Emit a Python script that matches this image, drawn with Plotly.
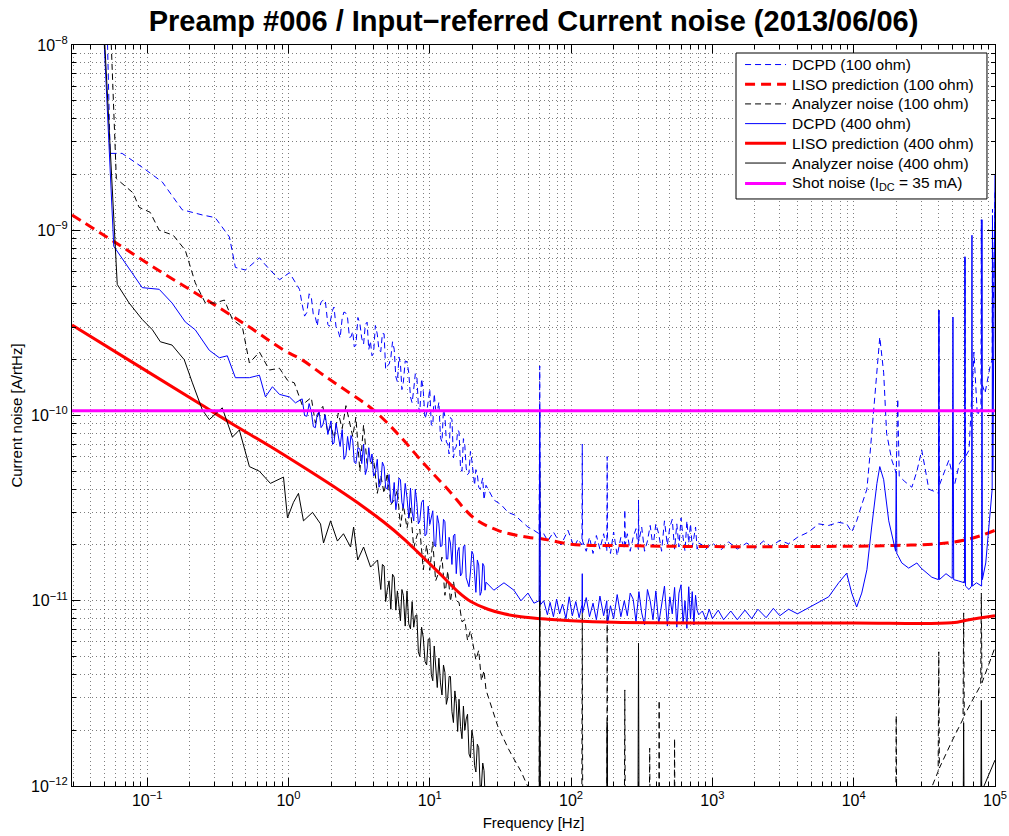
import plotly.graph_objects as go

# ---------------- data (frequency [Hz], current noise [A/rtHz]) ----------------
DENSE_F = [1.25, 1.35, 1.45, 1.55, 1.65, 1.75, 1.9, 2.0, 2.1, 2.25, 2.4, 2.55, 2.7, 2.85, 3.0,
           3.2, 3.4, 3.6, 3.8, 4.0, 4.25, 4.5, 4.75, 5.0, 5.3, 5.6, 5.9, 6.2, 6.5, 6.9, 7.3, 7.7,
           8.1, 8.5, 9.0, 9.5, 10, 10.5, 11, 11.6, 12.2, 12.8, 13.4, 14, 14.7, 15.4, 16.1, 16.9,
           17.7, 18.5, 19.4, 20.3, 21.2, 22.2, 23.2, 24.2, 25]
DENSE_F2 = [1.3, 1.4, 1.5, 1.6, 1.7, 1.82, 1.95, 2.05, 2.17, 2.32, 2.47, 2.62, 2.77, 2.92, 3.1,
            3.3, 3.5, 3.7, 3.9, 4.12, 4.37, 4.62, 4.87, 5.15, 5.45, 5.75, 6.05, 6.35, 6.7, 7.1,
            7.5, 7.9, 8.3, 8.75, 9.25, 9.75, 10.25, 10.75, 11.3, 11.9, 12.5, 13.1, 13.7, 14.35,
            15.05, 15.75, 16.5, 17.3, 18.1, 18.95, 19.85, 20.75, 21.7, 22.7, 23.7, 24.6]

DCPD100_LOW = [(0.052, 1.3e-8), (0.0547, 2.6e-9), (0.0665, 2.6e-9), (0.0937, 2.17e-9), (0.128, 1.82e-9),
               (0.177, 1.29e-9), (0.245, 1.21e-9), (0.303, 1.17e-9), (0.382, 9.2e-10), (0.421, 6.3e-10),
               (0.496, 6.1e-10), (0.623, 7.1e-10), (0.687, 6.5e-10), (0.863, 5.4e-10), (1.016, 5.9e-10),
               (1.197, 4.8e-10)]
DCPD100_DENSE = [3.98e-10, 3.6e-10, 4.37e-10, 3.39e-10, 3.75e-10, 4.18e-10, 3.1e-10, 3.37e-10,
                 3.85e-10, 2.85e-10, 3.36e-10, 3.57e-10, 2.64e-10, 2.84e-10, 2.39e-10,
                 3.14e-10, 2.43e-10, 3.19e-10, 2.52e-10, 2.16e-10,
                 2.75e-10, 2.21e-10, 2.76e-10, 1.85e-10,
                 2.05e-10, 2.28e-10, 1.52e-10, 1.9e-10, 1.51e-10, 1.95e-10, 1.26e-10, 1.39e-10, 1.63e-10,
                 1.04e-10, 1.35e-10, 1.03e-10, 1.39e-10,
                 8.8e-11, 1.08e-10, 1.18e-10, 7.2e-11, 9.9e-11, 7.0e-11, 9.75e-11,
                 5.9e-11, 6.8e-11, 8.2e-11, 5.0e-11, 6.9e-11, 4.8e-11, 6.4e-11, 5.0e-11, 5.1e-11,
                 4.1e-11, 4.3e-11, 3.5e-11, 4.2e-11]
DCPD100_DENSE2 = [3.44e-10, 4.54e-10, 3.48e-10, 3.04e-10, 4.09e-10, 4.2e-10, 3.03e-10, 3.7e-10, 3.01e-10,
                  2.62e-10, 3.62e-10, 3.36e-10, 2.66e-10, 2.35e-10, 3.38e-10, 2.61e-10, 3.1e-10, 2.27e-10,
                  2.1e-10, 3.06e-10, 2.25e-10, 2.77e-10, 1.78e-10, 1.89e-10, 2.5e-10, 1.62e-10, 2.07e-10,
                  1.38e-10, 1.97e-10, 1.7e-10, 1.17e-10, 1.68e-10, 1.13e-10, 1.58e-10, 9.6e-11, 1.25e-10,
                  8.9e-11, 1.31e-10, 1.05e-10, 7.6e-11, 1.08e-10, 7.2e-11, 6.2e-11, 9.5e-11, 6.6e-11,
                  8.3e-11, 5.2e-11, 7.5e-11, 5.2e-11, 4.9e-11, 5.7e-11, 4.2e-11, 4.8e-11, 4.0e-11,
                  4.6e-11, 3.9e-11]
DCPD100_MID = [(28.4, 3.5e-11), (32, 3.3e-11), (35.8, 3.0e-11), (40, 2.9e-11), (44.2, 2.7e-11), (49.5, 2.5e-11),
               (54.6, 2.4e-11), (59.4, 2.3e-11), (60, 1.85e-10), (60.6, 2.2e-11), (64, 2.3e-11), (68.5, 2.1e-11),
               (75, 2.35e-11), (84.9, 2.0e-11), (95, 2.4e-11), (105, 1.95e-11), (112, 2.15e-11), (119.4, 2.0e-11),
               (120, 7e-11), (120.6, 2.1e-11), (128, 1.85e-11), (135, 2.2e-11), (143, 1.8e-11), (151, 2.25e-11),
               (160, 1.9e-11), (170, 2.3e-11), (179, 1.85e-11), (180, 6e-11), (181, 2.2e-11), (190, 1.8e-11),
               (200, 2.35e-11), (212, 1.75e-11), (225, 2.2e-11), (238, 1.9e-11), (240, 3.1e-11), (242, 2.0e-11),
               (250, 2.3e-11), (262, 1.85e-11), (275, 2.2e-11), (288, 2.45e-11), (299, 1.9e-11), (300, 3.5e-11),
               (302, 2.1e-11), (316, 2.5e-11), (331, 1.85e-11), (347, 2.1e-11), (363, 2.55e-11), (380, 1.95e-11),
               (398, 2.6e-11), (417, 2.3e-11), (437, 1.85e-11), (458, 2.7e-11), (480, 2.0e-11), (500, 2.5e-11),
               (520, 2.75e-11), (540, 1.9e-11), (560, 2.6e-11), (580, 1.95e-11), (600, 2.8e-11), (620, 2.2e-11),
               (640, 1.85e-11), (660, 2.7e-11), (680, 2.05e-11), (700, 2.6e-11), (720, 1.95e-11), (740, 2.2e-11),
               (760, 2.5e-11), (780, 1.9e-11), (800, 2.05e-11)]
DCPD100_HIGH = [(850, 2.0e-11), (900, 1.9e-11), (1000, 2.05e-11), (1150, 1.88e-11), (1300, 2.08e-11),
                (1500, 1.9e-11), (1750, 2.05e-11), (2000, 1.92e-11), (2300, 2.1e-11), (2600, 1.96e-11),
                (3000, 2.12e-11), (3460, 2.03e-11), (4000, 2.2e-11), (4800, 2.35e-11), (5650, 2.6e-11),
                (6650, 2.55e-11), (7830, 2.65e-11), (8920, 2.6e-11), (9680, 2.35e-11), (10500, 2.7e-11),
                (11400, 3.3e-11), (12400, 4.0e-11), (13000, 6.0e-11), (14100, 1.21e-10), (15300, 2.65e-10),
                (16300, 1.7e-10), (17100, 8.0e-11), (18600, 5.75e-11), (20000, 4.9e-11), (20500, 1.23e-10),
                (21000, 4.7e-11), (23000, 4.4e-11), (25800, 4.1e-11), (28000, 5.0e-11), (30300, 6.5e-11),
                (32000, 5.2e-11), (34000, 4.0e-11), (37000, 3.9e-11), (39800, 3.8e-11), (40100, 3.7e-10),
                (40400, 4.2e-11), (44000, 5.0e-11), (47200, 5.75e-11), (50000, 4.8e-11), (52000, 4.3e-11),
                (56000, 5.5e-11), (60800, 6.0e-11), (61300, 7.2e-10), (61800, 6.0e-11), (65500, 6.5e-11),
                (68000, 1.2e-10), (71000, 2.2e-10), (75000, 1.0e-10), (79500, 1.1e-10), (80000, 1.14e-9),
                (80500, 1.5e-10), (85000, 1.32e-10), (92200, 1.83e-10), (95500, 2.0e-10), (96000, 1.3e-9),
                (96500, 2.5e-10), (100000, 1.6e-9)]

LISO100 = [(0.0294, 1.21e-9), (0.0593, 8.6e-10), (0.1216, 6.05e-10), (0.258, 4.25e-10), (0.529, 3.0e-10),
           (0.92, 2.26e-10), (1.257, 1.99e-10), (1.77, 1.65e-10), (2.6, 1.35e-10), (4.0, 1.07e-10),
           (6.23, 7.65e-11), (9.07, 5.5e-11), (13.4, 4.0e-11), (20.5, 2.8e-11), (30.3, 2.4e-11),
           (49.5, 2.2e-11), (64.3, 2.15e-11), (100, 2.02e-11), (300, 1.98e-11), (1000, 1.96e-11),
           (3000, 1.96e-11), (10000, 1.97e-11), (20000, 1.99e-11), (40000, 2.03e-11), (60000, 2.12e-11),
           (80000, 2.25e-11), (100000, 2.4e-11)]

ANALYZER100_LOW = [(0.055, 1.3e-8), (0.0605, 1.9e-9), (0.0796, 1.59e-9), (0.0877, 1.33e-9), (0.105, 1.25e-9),
                   (0.1216, 1.0e-9), (0.153, 9.4e-10), (0.186, 7.8e-10), (0.219, 5.2e-10), (0.258, 4.05e-10),
                   (0.304, 4.05e-10), (0.352, 4.2e-10), (0.401, 3.3e-10), (0.472, 3.0e-10), (0.529, 1.92e-10),
                   (0.623, 2.2e-10), (0.733, 1.76e-10), (0.863, 1.8e-10), (0.984, 1.55e-10), (1.1, 1.5e-10)]
ANALYZER100_DENSE = [1.14e-10, 1.19e-10, 1.25e-10, 9.1e-11, 1.05e-10, 1.12e-10, 8.1e-11, 8.8e-11,
                     7.5e-11, 1.03e-10, 8.5e-11, 1.13e-10, 9.2e-11, 7.7e-11, 9.8e-11,
                     5.0e-11, 8.9e-11, 5.5e-11, 5.4e-11, 5.85e-11,
                     3.8e-11, 4.75e-11, 3.8e-11, 4.9e-11,
                     3.3e-11, 3.5e-11, 3.96e-11, 2.5e-11, 3.3e-11, 2.46e-11, 3.17e-11, 1.93e-11, 2.24e-11,
                     2.44e-11, 1.47e-11, 2.0e-11, 1.46e-11,
                     2.08e-11, 1.28e-11, 1.43e-11, 1.72e-11, 1.07e-11, 1.45e-11, 9.9e-12,
                     1.28e-11, 1.0e-11, 9.8e-12, 7.7e-12, 7.9e-12, 6.1e-12, 6.9e-12, 5.7e-12, 4.8e-12,
                     5.4e-12, 3.7e-12, 4.2e-12, 3.3e-12]
ANALYZER100_HIGH = [(30.3, 2.1e-12), (35.8, 1.6e-12), (39.4, 1.4e-12), (44.2, 1.2e-12), (49.5, 9.9e-13),
                    (55, 7e-13), (59.4, 6e-13), (60, 5e-11), (60.6, 5e-13), (119, 5e-13), (120, 9e-12),
                    (121, 5e-13), (179, 5e-13), (180, 9e-12), (181.5, 5e-13), (238, 5e-13), (240, 3.3e-12),
                    (242, 5e-13), (357, 5e-13), (360, 1.6e-12), (363, 5e-13), (417, 5e-13), (420, 2.9e-12),
                    (423, 5e-13), (536, 5e-13), (540, 1.8e-12), (544, 5e-13), (19800, 5e-13), (20000, 2.4e-12),
                    (20200, 5e-13), (35000, 9.5e-13), (39600, 1.2e-12), (40000, 5.3e-12), (40400, 1.25e-12),
                    (50000, 1.77e-12), (59400, 2.3e-12), (60000, 8.6e-12), (60600, 2.4e-12), (70000, 2.95e-12),
                    (79200, 3.5e-12), (80000, 1.1e-11), (80800, 3.6e-12), (100000, 5.6e-12)]

DCPD400_LOW = [(0.0485, 1.5e-8), (0.058, 8.2e-10), (0.0922, 4.9e-10), (0.1216, 4.8e-10), (0.150, 4.05e-10),
               (0.186, 3.2e-10), (0.219, 2.9e-10), (0.275, 2.25e-10), (0.324, 2.05e-10), (0.369, 2.1e-10),
               (0.421, 1.6e-10), (0.472, 1.6e-10), (0.529, 1.6e-10), (0.623, 1.65e-10), (0.687, 1.26e-10),
               (0.770, 1.43e-10), (0.863, 1.3e-10), (1.016, 1.26e-10), (1.12, 1.17e-10)]
DCPD400_DENSE = [1.23e-10, 9.9e-11, 1.05e-10, 8.6e-11, 1.045e-10, 8.9e-11, 7.9e-11, 9.35e-11,
                 7.1e-11, 7.7e-11, 8.4e-11, 6.1e-11, 6.5e-11, 7.3e-11, 5.5e-11,
                 6.6e-11, 7.0e-11, 5.2e-11, 5.6e-11, 4.7e-11,
                 5.8e-11, 4.3e-11, 5.3e-11, 4.0e-11,
                 3.4e-11, 4.35e-11, 3.55e-11, 4.5e-11, 3.15e-11, 3.6e-11, 4.05e-11, 2.7e-11, 3.4e-11,
                 2.7e-11, 3.5e-11, 2.3e-11, 2.58e-11,
                 3.06e-11, 1.96e-11, 2.6e-11, 1.98e-11, 2.67e-11, 1.68e-11, 2.05e-11,
                 2.24e-11, 1.4e-11, 1.94e-11, 1.41e-11, 2.0e-11, 1.24e-11, 1.43e-11, 1.78e-11, 1.11e-11,
                 1.56e-11, 1.12e-11, 1.54e-11, 1.26e-11]
DCPD400_DENSE2 = [1.0e-10, 1.16e-10, 8.7e-11, 1.02e-10, 8.6e-11, 1.01e-10, 8.6e-11, 7.0e-11, 9.1e-11,
                  6.8e-11, 5.8e-11, 7.7e-11, 7.8e-11, 5.6e-11, 6.7e-11, 5.5e-11, 4.8e-11, 6.7e-11,
                  6.2e-11, 4.9e-11, 4.1e-11, 5.6e-11, 4.1e-11, 4.8e-11, 3.4e-11, 3.1e-11, 4.6e-11,
                  3.4e-11, 4.3e-11, 2.8e-11, 3.0e-11, 4.0e-11, 2.6e-11, 3.4e-11, 2.24e-11, 3.24e-11,
                  2.86e-11, 2.0e-11, 2.88e-11, 1.96e-11, 2.75e-11, 1.68e-11, 2.2e-11, 1.57e-11,
                  2.29e-11, 1.85e-11, 1.36e-11, 1.96e-11, 1.33e-11, 1.19e-11, 1.85e-11, 1.29e-11,
                  1.66e-11, 1.07e-11, 1.59e-11, 1.14e-11]
DCPD400_MID = [(28.4, 1.14e-11), (33.5, 1.25e-11), (39.4, 1.14e-11), (44.2, 1.0e-11), (49.5, 1.1e-11),
               (54.6, 9.7e-12), (59.4, 1.0e-11), (60, 1.1e-10), (60.6, 9.5e-12), (64, 1.0e-11), (68, 8.4e-12),
               (71, 9.8e-12), (75, 8.2e-12), (79, 1.02e-11), (83, 8.5e-12), (87, 9.6e-12), (92, 8.0e-12),
               (97, 1.05e-11), (102, 8.3e-12), (108, 9.9e-12), (114, 8.1e-12), (119.4, 9.5e-12), (120, 1.4e-11),
               (120.6, 8.6e-12), (128, 1.04e-11), (135, 8.2e-12), (143, 9.7e-12), (151, 7.9e-12), (160, 1.06e-11),
               (170, 8.3e-12), (179, 1.0e-11), (181, 7.5e-12), (190, 9.4e-12), (200, 8.0e-12), (212, 1.08e-11),
               (225, 8.2e-12), (238, 1.0e-11), (250, 8.3e-12), (262, 1.1e-11), (275, 1.02e-11), (288, 7.7e-12),
               (302, 1.12e-11), (316, 8.6e-12), (331, 7.4e-12), (347, 1.15e-11), (363, 1.0e-11), (380, 7.9e-12),
               (398, 1.13e-11), (417, 7.5e-12), (437, 9.6e-12), (458, 1.2e-11), (480, 7.3e-12), (500, 1.05e-11),
               (520, 8.5e-12), (540, 1.18e-11), (560, 7.2e-12), (580, 1.1e-11), (600, 1.22e-11), (620, 7.5e-12),
               (640, 1.0e-11), (660, 7.1e-12), (680, 1.19e-11), (700, 8.0e-12), (720, 1.12e-11), (740, 7.4e-12),
               (760, 1.07e-11), (780, 8.9e-12), (800, 8.4e-12)]
DCPD400_HIGH = [(850, 8.8e-12), (900, 7.9e-12), (950, 9.0e-12), (1000, 8.0e-12), (1100, 8.9e-12),
                (1200, 7.9e-12), (1350, 8.8e-12), (1500, 7.9e-12), (1700, 8.9e-12), (1900, 8.0e-12),
                (2100, 9.0e-12), (2400, 8.1e-12), (2700, 9.1e-12), (3000, 8.3e-12), (3460, 9.0e-12),
                (4000, 8.5e-12), (4800, 9.2e-12), (5650, 9.8e-12), (6650, 1.05e-11), (7830, 1.25e-11),
                (8920, 1.41e-11), (9680, 1.1e-11), (10500, 9.25e-12), (11400, 1.1e-11), (12400, 1.47e-11),
                (13400, 2.5e-11), (14600, 4.3e-11), (15300, 5.3e-11), (16300, 4.5e-11), (17700, 2.7e-11),
                (19800, 1.85e-11), (20000, 5.0e-11), (20200, 1.8e-11), (21900, 1.6e-11), (24500, 1.5e-11),
                (28000, 1.6e-11), (30000, 1.5e-11), (35700, 1.34e-11), (39800, 1.3e-11), (40100, 3.7e-10),
                (40400, 1.3e-11), (45000, 1.4e-11), (49800, 1.32e-11), (50400, 3.4e-10), (51000, 1.3e-11),
                (55000, 1.28e-11), (60800, 1.25e-11), (61300, 7.2e-10), (61800, 1.2e-11), (65500, 1.15e-11),
                (68300, 1.2e-11), (68700, 9.4e-10), (69100, 1.2e-11), (74000, 1.25e-11), (80400, 1.2e-11),
                (80900, 1.14e-9), (81400, 1.3e-11), (86000, 1.6e-11), (92000, 3.0e-11), (95500, 4e-11),
                (96000, 1.2e-9), (96500, 5e-11), (100000, 2.0e-9)]

LISO400 = [(0.0294, 3.08e-10), (0.1, 1.73e-10), (0.234, 1.16e-10), (0.401, 9.0e-11), (0.745, 6.8e-11),
           (1.257, 5.3e-11), (2.22, 4.01e-11), (3.40, 3.21e-11), (4.72, 2.66e-11), (6.54, 2.16e-11),
           (8.22, 1.83e-11), (10.2, 1.56e-11), (12.6, 1.33e-11), (15.8, 1.12e-11), (19.5, 9.9e-12),
           (25.8, 9.0e-12), (33.5, 8.5e-12), (44.2, 8.2e-12), (68.5, 7.95e-12), (100, 7.8e-12),
           (202, 7.65e-12), (1600, 7.58e-12), (10000, 7.58e-12), (49500, 7.6e-12), (65500, 7.9e-12),
           (100000, 8.3e-12)]

ANALYZER400_LOW = [(0.0488, 1.5e-8), (0.0614, 5.1e-10), (0.0745, 4.05e-10), (0.0922, 3.3e-10), (0.109, 2.9e-10),
                   (0.124, 2.5e-10), (0.150, 2.4e-10), (0.183, 2.0e-10), (0.209, 1.5e-10), (0.246, 1.07e-10),
                   (0.275, 9.5e-11), (0.340, 1.1e-10), (0.401, 7.65e-11), (0.449, 8.35e-11), (0.529, 5.3e-11),
                   (0.623, 5.0e-11), (0.745, 4.3e-11), (0.922, 4.65e-11), (0.984, 2.8e-11), (1.085, 3.4e-11),
                   (1.177, 3.8e-11), (1.277, 2.7e-11), (1.48, 3.0e-11), (1.686, 2.6e-11), (1.77, 2.05e-11),
                   (1.985, 2.7e-11), (2.22, 2.1e-11), (2.45, 2.3e-11), (2.75, 1.95e-11), (2.89, 2.5e-11),
                   (3.09, 1.66e-11), (3.40, 1.95e-11), (3.81, 1.52e-11), (4.27, 1.66e-11)]
ANALYZER400_DENSE = [1.15e-11, 1.54e-11, 1.14e-11, 9.0e-12, 1.34e-11, 1.13e-11, 7.8e-12, 1.07e-11, 1.13e-11,
                     7.05e-12, 7.2e-12, 8.4e-12, 5.0e-12, 6.3e-12, 4.5e-12, 6.25e-12,
                     3.7e-12, 4.4e-12, 4.9e-12, 3.1e-12, 4.1e-12, 3.0e-12, 3.9e-12,
                     2.2e-12, 2.8e-12, 2.94e-12, 1.8e-12, 2.0e-12, 2.44e-12, 1.42e-12, 1.8e-12, 1.19e-12,
                     1.61e-12, 1.0e-12, 1.21e-12, 9.5e-13]
ANALYZER400_DENSE2 = [1.57e-11, 9.9e-12, 1.28e-11, 1.39e-11, 8.9e-12, 9.4e-12, 1.15e-11, 7.3e-12, 7.5e-12,
                      9.9e-12, 8.3e-12, 5.3e-12, 7.2e-12, 4.7e-12, 6.2e-12, 4.0e-12, 5.7e-12, 3.4e-12,
                      3.6e-12, 4.5e-12, 2.76e-12, 3.9e-12, 2.52e-12, 3.26e-12, 1.97e-12, 2.1e-12, 2.7e-12,
                      2.3e-12, 1.49e-12, 2.0e-12, 1.29e-12, 1.68e-12, 1.0e-12, 1.33e-12, 9.0e-13]
ANALYZER400_HIGH = [(26, 7e-13), (59.4, 5e-13), (60, 1.0e-11), (60.6, 5e-13), (178, 5e-13), (180, 2.2e-12),
                    (182, 5e-13), (297, 5e-13), (300, 5.9e-12), (303, 5e-13), (59400, 5e-13), (60000, 2.2e-12),
                    (60600, 5e-13), (79200, 5e-13), (80000, 2.9e-12), (80800, 5e-13), (83600, 1.0e-12),
                    (100000, 1.38e-12)]

SHOT_F = [0.0294, 100000]
SHOT_V = [1.06e-10, 1.06e-10]

X_TICKS = [0.1, 1, 10, 100, 1000, 10000, 100000]
X_TICKTEXT = ['10<sup>−1</sup>', '10<sup>0</sup>', '10<sup>1</sup>', '10<sup>2</sup>',
              '10<sup>3</sup>', '10<sup>4</sup>', '10<sup>5</sup>']
Y_TICKS = [1e-12, 1e-11, 1e-10, 1e-9, 1e-8]
Y_TICKTEXT = ['10<sup>−12</sup>', '10<sup>−11</sup>', '10<sup>−10</sup>', '10<sup>−9</sup>', '10<sup>−8</sup>']


def pts(*segs):
    xs, ys = [], []
    for s in segs:
        xs += [p[0] for p in s]
        ys += [p[1] for p in s]
    return xs, ys


def dense(freqs, vals, freqs2=(), vals2=()):
    return sorted(list(zip(freqs, vals)) + list(zip(freqs2, vals2)))


FONT = 'Liberation Sans, Arial, Helvetica, sans-serif'

series = [
    ('DCPD (100 ohm)',
     pts(DCPD100_LOW, dense(DENSE_F, DCPD100_DENSE, DENSE_F2, DCPD100_DENSE2), DCPD100_MID, DCPD100_HIGH),
     dict(color='#0000ff', width=1, dash='6px,4px')),
    ('LISO prediction (100 ohm)', pts(LISO100), dict(color='#ff0000', width=3, dash='10px,6px', shape='spline')),
    ('Analyzer noise (100 ohm)', pts(ANALYZER100_LOW, dense(DENSE_F, ANALYZER100_DENSE), ANALYZER100_HIGH),
     dict(color='#000000', width=1, dash='6px,4px')),
    ('DCPD (400 ohm)',
     pts(DCPD400_LOW, dense(DENSE_F, DCPD400_DENSE, DENSE_F2, DCPD400_DENSE2), DCPD400_MID, DCPD400_HIGH),
     dict(color='#0000ff', width=1)),
    ('LISO prediction (400 ohm)', pts(LISO400), dict(color='#ff0000', width=3, shape='spline')),
    ('Analyzer noise (400 ohm)',
     pts(ANALYZER400_LOW, dense(DENSE_F[21:], ANALYZER400_DENSE, DENSE_F2[21:], ANALYZER400_DENSE2),
         ANALYZER400_HIGH),
     dict(color='#000000', width=1)),
    ('Shot noise (I<sub>DC</sub> = 35 mA)', (SHOT_F, SHOT_V), dict(color='#ff00ff', width=3)),
]

fig = go.Figure()
for name, (xs, ys), line in series:
    fig.add_trace(go.Scatter(x=xs, y=ys, mode='lines', name=name, line=line, showlegend=False))

# ---- legend box drawn in paper coordinates (MATLAB-style compact legend) ----
LEG_X0, LEG_X1, LEG_Y0, LEG_Y1 = 0.7194, 0.9913, 0.7922, 0.9892
SAMPLE_X0, SAMPLE_X1, TEXT_X = 0.7292, 0.7736, 0.7779
ROW_Y = [0.9736, 0.9470, 0.9205, 0.8939, 0.8673, 0.8407, 0.8131]

shapes = [dict(type='rect', xref='paper', yref='paper', x0=LEG_X0, x1=LEG_X1, y0=LEG_Y0, y1=LEG_Y1,
               fillcolor='white', line=dict(color='black', width=1), layer='above')]
annotations = []
for (name, _, line), ry in zip(series, ROW_Y):
    shapes.append(dict(type='line', xref='paper', yref='paper', x0=SAMPLE_X0, x1=SAMPLE_X1, y0=ry, y1=ry,
                       line=dict(color=line['color'], width=line['width'], dash=line.get('dash', 'solid')),
                       layer='above'))
    annotations.append(dict(xref='paper', yref='paper', x=TEXT_X, y=ry, xanchor='left', yanchor='middle',
                            text=name, showarrow=False, font=dict(family=FONT, size=15.5, color='black')))

minor_x = [m * 10 ** e for e in range(-2, 5) for m in range(2, 10) if 0.0294 <= m * 10 ** e <= 1e5]
minor_y = [m * 10.0 ** e for e in range(-12, -8) for m in range(2, 10)]

GRID = 'rgba(0,0,0,0.5)'
GDASH = '1px,3px'

axis_common = dict(
    type='log', showline=True, linecolor='black', linewidth=1, mirror='allticks',
    ticks='inside', ticklen=8, tickwidth=1, tickcolor='black',
    showgrid=True, gridcolor=GRID, gridwidth=1, griddash=GDASH, zeroline=False,
    tickfont=dict(family=FONT, size=16, color='black'), ticklabeloverflow='allow',
)

fig.update_layout(
    width=1009, height=836,
    paper_bgcolor='white', plot_bgcolor='white',
    margin=dict(l=72, r=14, t=45, b=50, autoexpand=False),
    font=dict(family=FONT, color='black'),
    title=dict(text='Preamp #006 / Input−referred Current noise (2013/06/06)',
               font=dict(family=FONT, size=29, color='black', weight='bold'),
               x=0.5, xref='paper', xanchor='center', y=0.9749, yref='container', yanchor='middle'),
    xaxis=dict(axis_common, range=[-1.532, 5], tickmode='array', tickvals=X_TICKS, ticktext=X_TICKTEXT,
               minor=dict(tickmode='array', tickvals=minor_x, ticks='inside', ticklen=4, tickcolor='black',
                          showgrid=True, gridcolor=GRID, gridwidth=1, griddash=GDASH),
               title=dict(text='Frequency [Hz]', font=dict(family=FONT, size=15, color='black'), standoff=9)),
    yaxis=dict(axis_common, range=[-12, -8], tickmode='array', tickvals=Y_TICKS, ticktext=Y_TICKTEXT,
               minor=dict(tickmode='array', tickvals=minor_y, ticks='inside', ticklen=4, tickcolor='black',
                          showgrid=True, gridcolor=GRID, gridwidth=1, griddash=GDASH),
               title=dict(text='Current noise [A/rtHz]', font=dict(family=FONT, size=15, color='black'),
                          standoff=4)),
    shapes=shapes,
    annotations=annotations,
    showlegend=False,
)

fig.write_html('out.html',
               config={'displayModeBar': False},
               post_script="document.body.style.margin='0px';"
                           "document.documentElement.style.overflow='hidden';"
                           "document.body.style.overflow='hidden';")
